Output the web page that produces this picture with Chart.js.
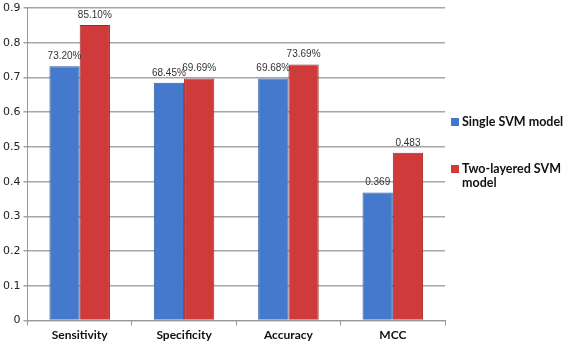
<!DOCTYPE html>
<html>
<head>
<meta charset="utf-8">
<script src="https://cdn.jsdelivr.net/npm/chart.js@4.4.0/dist/chart.umd.min.js"></script>
<style>
  html, body { margin: 0; padding: 0; background: #fff; }
  #wrap { position: relative; width: 567px; height: 343px; }
  #legend { position: absolute; left: 450px; top: 115px; width: 117px; font-family: Lato, "Open Sans", sans-serif; font-weight: bold; font-size: 12.5px; color: #111; }
  .item { position: relative; padding-left: 12px; line-height: 14px; }
  .item + .item { margin-top: 33px; }
  .box { position: absolute; left: 1px; top: 3px; width: 8px; height: 8px; }
</style>
</head>
<body>
<div id="wrap">
  <canvas id="chart" width="567" height="343"></canvas>
  <div id="legend"></div>
</div>
<script>
// Chart data
const categories = ["Sensitivity", "Specificity", "Accuracy", "MCC"];
const seriesNames = ["Single SVM model", "Two-layered SVM model"];
const singleSvm = [0.732, 0.6845, 0.6968, 0.369];
const twoLayerSvm = [0.851, 0.6969, 0.7369, 0.483];
const singleLabels = ["73.20%", "68.45%", "69.68%", "0.369"];
const twoLayerLabels = ["85.10%", "69.69%", "73.69%", "0.483"];

const colors = [
    { fill: "#4479cc", border: "#2d5a9e", box: "#3f78cf" },
    { fill: "#cf3b3b", border: "#9e2a2a", box: "#d03a3a" }
];

// Horizontal gradient for each bar, lighter on the edges
function barGradient(ctx, base, light) {
    const el = ctx.element;
    if (!el || el.x === undefined || isNaN(el.x)) return base;
    const w = el.width || 30;
    const g = ctx.chart.ctx.createLinearGradient(el.x - w / 2, 0, el.x + w / 2, 0);
    g.addColorStop(0, light);
    g.addColorStop(0.25, base);
    g.addColorStop(0.85, base);
    g.addColorStop(1, light);
    return g;
}

// Draws value labels above each bar
const valueLabels = {
    id: "valueLabels",
    afterDatasetsDraw(chart) {
        const ctx = chart.ctx;
        const texts = [singleLabels, twoLayerLabels];
        ctx.save();
        ctx.font = "10px 'Liberation Sans', sans-serif";
        ctx.fillStyle = "#333";
        ctx.textAlign = "center";
        ctx.textBaseline = "bottom";
        chart.data.datasets.forEach((ds, i) => {
            chart.getDatasetMeta(i).data.forEach((bar, j) => {
                ctx.fillText(texts[i][j], bar.x, bar.y - 5);
            });
        });
        ctx.restore();
    }
};

const chart = new Chart(document.getElementById("chart").getContext("2d"), {
    type: "bar",
    data: {
        labels: categories,
        datasets: [
            {
                label: seriesNames[0],
                data: singleSvm,
                backgroundColor: (c) => barGradient(c, colors[0].fill, "#5e93e0"),
                borderColor: colors[0].border,
                borderWidth: 1,
            },
            {
                label: seriesNames[1],
                data: twoLayerSvm,
                backgroundColor: (c) => barGradient(c, colors[1].fill, "#e25a5a"),
                borderColor: colors[1].border,
                borderWidth: 1,
            },
        ],
    },
    options: {
        responsive: false,
        animation: false,
        layout: { padding: { left: 0, right: 122, top: 0, bottom: -1 } },
        categoryPercentage: 0.58,
        barPercentage: 1.0,
        plugins: {
            legend: { display: false },
            tooltip: { enabled: false },
        },
        scales: {
            x: {
                grid: {
                    offset: true,
                    drawOnChartArea: false,
                    drawTicks: true,
                    tickLength: 5,
                    color: "#999",
                },
                border: { color: "#999", width: 1 },
                ticks: {
                    color: "#111",
                    font: { family: "Lato, 'Open Sans', sans-serif", weight: "bold", size: 12 },
                    padding: 2,
                },
            },
            y: {
                min: 0,
                max: 0.9,
                ticks: {
                    stepSize: 0.1,
                    color: "#222",
                    font: { family: "'DejaVu Sans', sans-serif", size: 11, lineHeight: 0.9 },
                    padding: 3,
                    callback: (v) => Math.round(v * 10) / 10,
                },
                grid: { color: "#a6a6a6", lineWidth: 1.5, tickLength: 4 },
                border: { color: "#999", width: 1 },
            },
        },
    },
    plugins: [valueLabels],
});

// HTML legend on the right
const legend = document.getElementById("legend");
seriesNames.forEach((name, i) => {
    const item = document.createElement("div");
    item.className = "item";
    item.innerHTML = '<span class="box" style="background:' + colors[i].box + '"></span>';
    item.appendChild(document.createTextNode(name));
    legend.appendChild(item);
});
legend.children[0].style.whiteSpace = "nowrap";
</script>
</body>
</html>
